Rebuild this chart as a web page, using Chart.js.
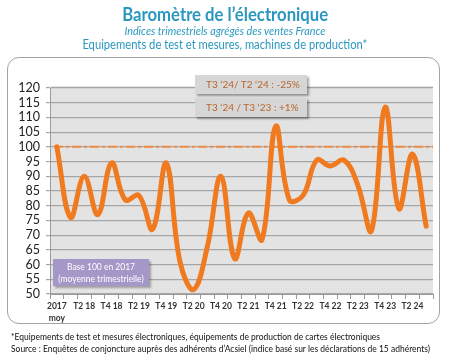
<!DOCTYPE html>
<html>
<head>
<meta charset="utf-8">
<script src="https://cdn.jsdelivr.net/npm/chart.js@4.4.1/dist/chart.umd.min.js"></script>
<style>
  html, body { margin:0; padding:0; background:#fff; }
  body { width:450px; height:358px; position:relative; overflow:hidden; font-family:'Lato', 'Open Sans', sans-serif; }
  .abs { position:absolute; }
  .line { position:absolute; left:0; width:450px; text-align:center; white-space:nowrap; }
  .line span, .foot span { display:inline-block; white-space:nowrap; }
  #frame { left:7px; top:57px; width:433px; height:267px; border:1.5px solid #a3a3a3; border-radius:12px; box-sizing:border-box; }
  .note { background:#d6d6d6; color:#b8642c; font-size:10px; box-shadow:2px 2px 2px rgba(0,0,0,0.35); box-sizing:border-box; padding-left:11px; line-height:19px; white-space:nowrap; }
  #base { left:53px; top:259px; width:96px; height:27px; background:#a597c7; color:#fff; font-size:8.5px; text-align:center; line-height:12px; padding-top:2px; box-sizing:border-box; box-shadow:2px 2px 2px rgba(0,0,0,0.3); }
  .foot { position:absolute; left:11px; font-size:9px; color:#111; white-space:nowrap; }
</style>
</head>
<body>
<div id="frame" class="abs"></div>
<canvas id="c" width="450" height="358" class="abs" style="left:0;top:0;"></canvas>

<div class="line" style="top:2px;color:#2b97bf;font-weight:bold;font-size:19px;"><span data-w="206">Baromètre de l’électronique</span></div>
<div class="line" style="top:25px;color:#2b97bf;font-style:italic;font-size:10.5px;"><span data-w="201">Indices trimestriels agrégés des ventes France</span></div>
<div class="line" style="top:37px;color:#2b97bf;font-size:12.5px;"><span data-w="285">Equipements de test et mesures, machines de production*</span></div>

<div class="abs note" style="left:195px;top:75px;width:112px;height:19px;">T3 ‘24/ T2 ‘24 : -25%</div>
<div class="abs note" style="left:195px;top:98px;width:112px;height:19px;">T3 ‘24 / T3 ‘23 : +1%</div>
<div id="base" class="abs">Base 100 en 2017<br>(moyenne trimestrielle)</div>

<div class="foot" style="top:331px;"><span data-w="369" data-left="1">*Equipements de test et mesures électroniques, équipements de production de cartes électroniques</span></div>
<div class="foot" style="top:343px;"><span data-w="419" data-left="1">Source : Enquêtes de conjoncture auprès des adhérents d’Acsiel (indice basé sur les déclarations de 15 adhérents)</span></div>

<script>
// ---- data ----
const categories = [["2017","moy"],"T1 18","T2 18","T3 18","T4 18","T1 19","T2 19","T3 19","T4 19",
  "T1 20","T2 20","T3 20","T4 20","T1 21","T2 21","T3 21","T4 21","T1 22","T2 22","T3 22","T4 22",
  "T1 23","T2 23","T3 23","T4 23","T1 24","T2 24","T3 24"];
const indexValues = [100, 76, 90, 77, 94.5, 82, 83.5, 72, 94.5,
  61, 51.5, 66, 90, 62, 77.5, 68.5, 107, 82, 83.5, 95.5, 93.5,
  95.5, 87, 71.5, 113.5, 79, 97.5, 73];
const baseLevel = 100;
const yMin = 50, yMax = 120, yStep = 5;

// ---- fit texts ----
document.querySelectorAll('[data-w]').forEach(el => {
  const target = parseFloat(el.dataset.w);
  const w = el.getBoundingClientRect().width;
  if (w > 0) {
    el.style.transformOrigin = el.dataset.left ? 'left center' : 'center center';
    el.style.transform = 'scaleX(' + (target / w) + ')';
  }
});

const plotBg = {
  id: 'plotBg',
  beforeDraw(chart) {
    const a = chart.chartArea, ctx = chart.ctx;
    ctx.save();
    ctx.fillStyle = '#e3e3e3';
    ctx.fillRect(a.left, a.top - 2, a.right - a.left, a.bottom - a.top + 2);
    ctx.restore();
  }
};
const baseLine = {
  id: 'baseLine',
  beforeDatasetsDraw(chart) {
    const a = chart.chartArea, ctx = chart.ctx;
    const y = chart.scales.y.getPixelForValue(baseLevel);
    ctx.save();
    ctx.strokeStyle = '#f08a3e';
    ctx.lineWidth = 2;
    ctx.setLineDash([9, 3, 3, 3]);
    ctx.beginPath();
    ctx.moveTo(a.left + 4, y);
    ctx.lineTo(a.right, y);
    ctx.stroke();
    ctx.restore();
  }
};

new Chart(document.getElementById('c'), {
  type: 'line',
  data: {
    labels: categories,
    datasets: [{
      data: indexValues,
      borderColor: '#f07a1f',
      borderWidth: 5,
      tension: 0.4,
      pointRadius: 0,
      fill: false,
      borderCapStyle: 'round',
      borderJoinStyle: 'round'
    }]
  },
  options: {
    responsive: false,
    animation: false,
    devicePixelRatio: 1,
    layout: { padding: { left: 0, right: 17, top: 88, bottom: 0 } },
    plugins: { legend: { display: false }, tooltip: { enabled: false } },
    scales: {
      x: {
        type: 'category',
        offset: true,
        grid: { offset: true, drawOnChartArea: false, drawTicks: true, tickLength: 5, color: '#9a9a9a', lineWidth: 1 },
        border: { display: true, color: '#9a9a9a', width: 1 },
        ticks: {
          autoSkip: false, maxRotation: 0, minRotation: 0, padding: 2,
          font: { family: 'Lato', size: 8.5, weight: 'bold', lineHeight: 1.35 },
          color: '#333',
          callback: (v, i) => (i % 2 === 0 ? categories[i] : '')
        },
        afterFit: s => { s.height = 64; }
      },
      y: {
        min: yMin, max: yMax,
        grid: { color: '#a6a6a6', lineWidth: 1.2, tickLength: 4 },
        border: { display: true, color: '#9a9a9a', width: 1 },
        ticks: { stepSize: yStep, autoSkip: false, padding: 6, color: '#222', font: { family: 'Lato', size: 12.5 } },
        afterFit: s => { s.width = 50; }
      }
    }
  },
  plugins: [plotBg, baseLine]
});
</script>
</body>
</html>
